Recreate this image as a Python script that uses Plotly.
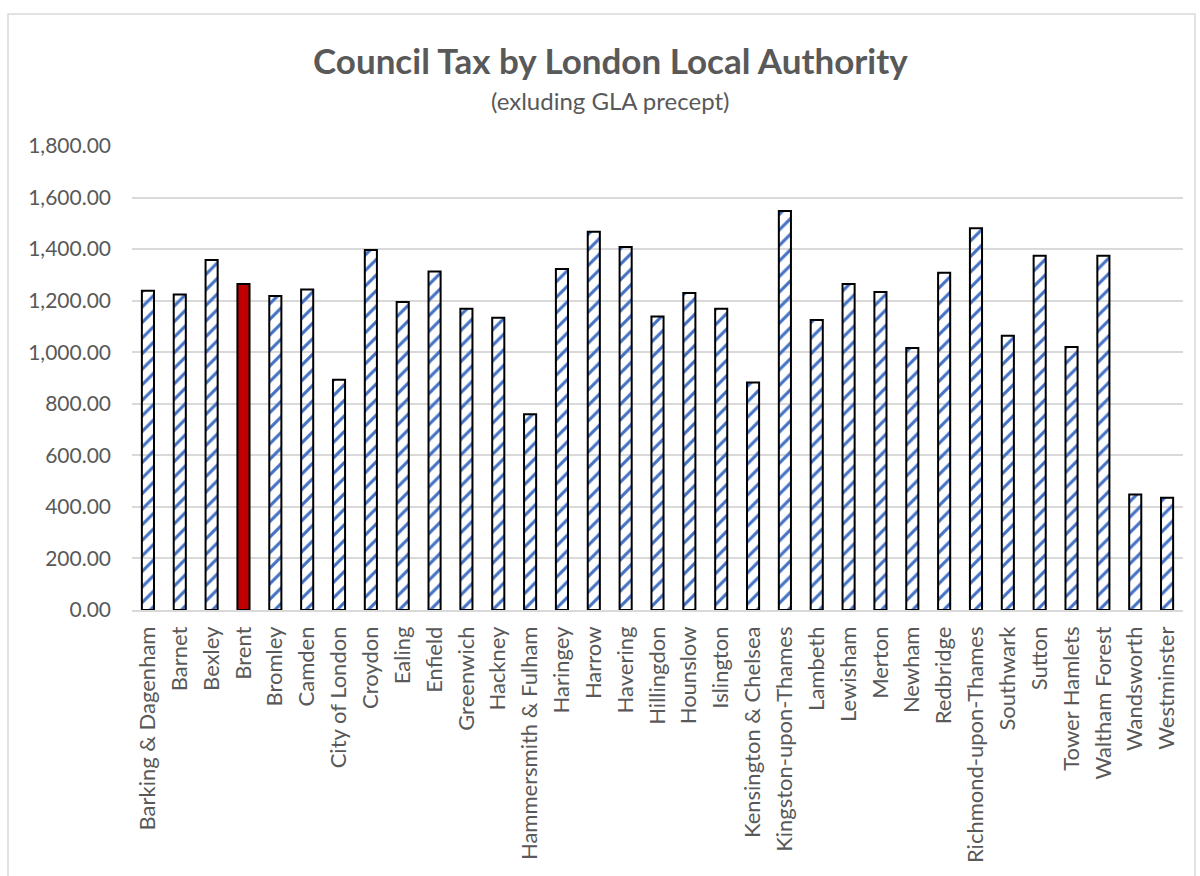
import plotly.graph_objects as go

authorities = [
    "Barking & Dagenham", "Barnet", "Bexley", "Brent", "Bromley", "Camden",
    "City of London", "Croydon", "Ealing", "Enfield", "Greenwich", "Hackney",
    "Hammersmith & Fulham", "Haringey", "Harrow", "Havering", "Hillingdon",
    "Hounslow", "Islington", "Kensington & Chelsea", "Kingston-upon-Thames",
    "Lambeth", "Lewisham", "Merton", "Newham", "Redbridge",
    "Richmond-upon-Thames", "Southwark", "Sutton", "Tower Hamlets",
    "Waltham Forest", "Wandsworth", "Westminster",
]
council_tax = [
    1238, 1224, 1358, 1265, 1218, 1243,
    893, 1397, 1195, 1313, 1169, 1134,
    759, 1323, 1467, 1408, 1139,
    1230, 1169, 883, 1548,
    1125, 1265, 1234, 1016, 1308,
    1481, 1064, 1374, 1020,
    1374, 448, 435,
]
highlight = "Brent"
y_ticks = [0, 200, 400, 600, 800, 1000, 1200, 1400, 1600, 1800]

colors = ["#C00000" if a == highlight else "#4472C4" for a in authorities]
shapes = ["" if a == highlight else "/" for a in authorities]

W, H = 1200, 876
ML, MR, MT, MB = 132, 17, 146, 266
PW, PH = W - ML - MR, H - MT - MB
title_cx = (610 - ML) / PW

fig = go.Figure(go.Bar(
    x=authorities,
    y=council_tax,
    marker=dict(
        color=colors,
        line=dict(color="#000000", width=2),
        pattern=dict(shape=shapes, bgcolor="#FFFFFF", fillmode="replace",
                     size=11, solidity=0.28),
    ),
))

font_family = "Lato, 'Open Sans', sans-serif"
fig.update_layout(
    width=W, height=H,
    paper_bgcolor="#FFFFFF", plot_bgcolor="#FFFFFF",
    margin=dict(l=ML, r=MR, t=MT, b=MB, autoexpand=False),
    bargap=0.62,
    showlegend=False,
    font=dict(family=font_family, color="#595959"),
    shapes=[
        dict(type="rect", xref="paper", yref="paper",
             x0=(8 - ML) / PW, x1=(1195 - ML) / PW,
             y0=-1.0, y1=(H - MB - 14) / PH,
             line=dict(color="#D9D9D9", width=1.5),
             fillcolor="rgba(0,0,0,0)", layer="below"),
    ],
)
fig.add_annotation(text="<b>Council Tax by London Local Authority</b>",
                   x=title_cx, y=1 + (MT - 60) / PH, xref="paper", yref="paper",
                   showarrow=False, xanchor="center", yanchor="middle",
                   font=dict(size=35, color="#595959", family=font_family))
fig.add_annotation(text="(exluding GLA precept)",
                   x=title_cx, y=1 + (MT - 100) / PH, xref="paper", yref="paper",
                   showarrow=False, xanchor="center", yanchor="middle",
                   font=dict(size=24, color="#595959", family=font_family))

fig.update_xaxes(
    tickangle=-90,
    tickfont=dict(size=22, color="#595959", family=font_family),
    showgrid=False,
    showline=True, linecolor="#D9D9D9", linewidth=1.5,
    ticks="",
    ticklabelstandoff=6,
)
fig.update_yaxes(
    range=[0, 1800],
    tickvals=y_ticks,
    tickformat=",.2f",
    tickfont=dict(size=21, color="#595959", family=font_family),
    showgrid=True, gridcolor="#D9D9D9", gridwidth=1.5,
    zeroline=False, showline=False,
    ticks="", ticklen=0,
    ticklabelstandoff=20,
)

fig.write_html("out.html", config={"displayModeBar": False},
               post_script="document.body.style.margin='0';")
